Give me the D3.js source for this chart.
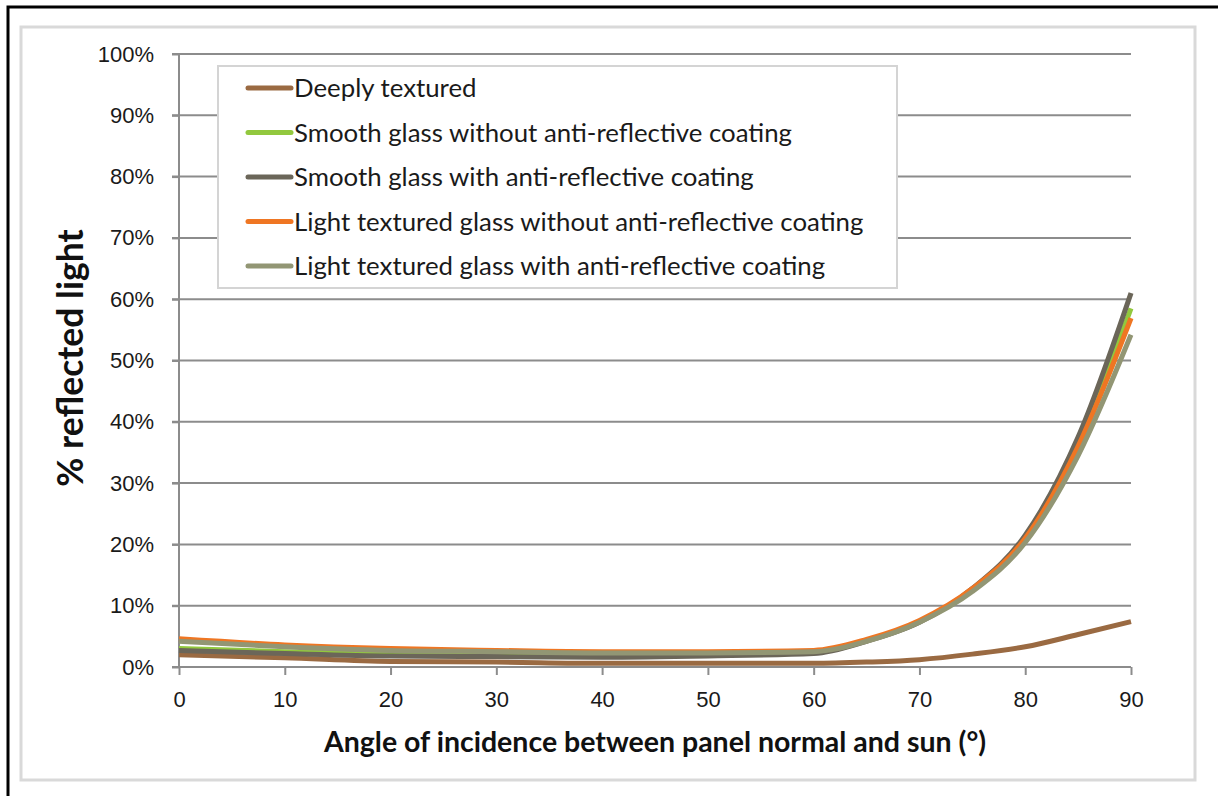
<!DOCTYPE html>
<html>
<head>
<meta charset="utf-8">
<script src="https://cdn.jsdelivr.net/npm/d3@7"></script>
<style>
  body { margin: 0; background: #fff; }
  svg { display: block; font-family: Lato, "Open Sans", sans-serif; }
  .grid line { stroke: #8c8c8c; stroke-width: 2; }
  .axis path, .axis line { stroke: #8c8c8c; stroke-width: 2; }
  .axis text { fill: #1a1a1a; font-size: 22px; }
  .legend text { fill: #1a1a1a; font-size: 25.8px; }
  .title { font-weight: bold; fill: #111; }
</style>
</head>
<body>
<div class="svg-container"></div>
<script>
// angle of incidence (degrees)
const angles = [0, 10, 20, 30, 40, 50, 60, 65, 70, 75, 80, 85, 90];

// % reflected light per surface type
const deeplyTextured   = [2.0, 1.5, 0.9, 0.8, 0.6, 0.6, 0.6, 0.8, 1.2, 2.1, 3.3, 5.3, 7.4];
const smoothNoAR       = [3.0, 2.5, 2.1, 2.0, 1.9, 2.0, 2.4, 4.3, 7.4, 12.6, 21.0, 36.5, 58.5];
const smoothAR         = [2.7, 2.2, 1.8, 1.7, 1.6, 1.8, 2.2, 4.2, 7.3, 12.8, 21.5, 37.5, 61.0];
const lightNoAR        = [4.6, 3.6, 3.0, 2.7, 2.5, 2.5, 2.7, 4.5, 7.6, 12.8, 21.0, 36.0, 56.9];
const lightAR          = [4.2, 3.3, 2.7, 2.5, 2.3, 2.3, 2.5, 4.2, 7.3, 12.3, 20.3, 34.5, 54.2];

const seriesNames = [
  "Deeply textured",
  "Smooth glass without anti-reflective coating",
  "Smooth glass with anti-reflective coating",
  "Light textured glass without anti-reflective coating",
  "Light textured glass with anti-reflective coating"
];
const seriesValues = [deeplyTextured, smoothNoAR, smoothAR, lightNoAR, lightAR];
const seriesColors = ["#9a6a42", "#92c83e", "#6b6659", "#ef7623", "#929674"];

const xTicks = [0, 10, 20, 30, 40, 50, 60, 70, 80, 90];
const yTicks = [0, 10, 20, 30, 40, 50, 60, 70, 80, 90, 100];

const width = 1218, height = 796;

var svg = d3.select(".svg-container").append("svg")
  .attr("width", width)
  .attr("height", height);

// outer frames
svg.append("rect")
  .attr("x", 8).attr("y", 7)
  .attr("width", 1240).attr("height", 820)
  .attr("fill", "none").attr("stroke", "#000").attr("stroke-width", 3);

svg.append("rect")
  .attr("x", 21).attr("y", 27)
  .attr("width", 1174).attr("height", 753)
  .attr("fill", "none").attr("stroke", "#d9d9d9").attr("stroke-width", 3);

var x = d3.scaleLinear().domain([0, 90]).range([179, 1131]);
var y = d3.scaleLinear().domain([0, 100]).range([667, 54]);

// horizontal gridlines
svg.append("g")
  .attr("class", "grid")
  .selectAll("line")
  .data(yTicks.filter(function(d) { return d > 0; }))
  .enter()
  .append("line")
  .attr("x1", x(0) - 7)
  .attr("x2", x(90))
  .attr("y1", function(d) { return y(d); })
  .attr("y2", function(d) { return y(d); });

// y axis
var yAxis = svg.append("g")
  .attr("class", "axis")
  .attr("transform", "translate(" + x(0) + ",0)")
  .call(d3.axisLeft(y).tickValues(yTicks).tickSize(7).tickPadding(18)
    .tickFormat(function(d) { return d + "%"; }));
yAxis.select(".domain").attr("d", "M0," + y(0) + "V" + y(100));

// x axis
var xAxis = svg.append("g")
  .attr("class", "axis")
  .attr("transform", "translate(0," + y(0) + ")")
  .call(d3.axisBottom(x).tickValues(xTicks).tickSize(8).tickPadding(16)
    .tickFormat(d3.format("d")));
xAxis.select(".domain").attr("d", "M" + (x(0) - 7) + ",0H" + x(90));

// lines
var line = d3.line()
  .x(function(d, i) { return x(angles[i]); })
  .y(function(d) { return y(d); })
  .curve(d3.curveMonotoneX);

svg.append("g")
  .selectAll("path")
  .data(seriesValues)
  .enter()
  .append("path")
  .attr("fill", "none")
  .attr("stroke", function(d, i) { return seriesColors[i]; })
  .attr("stroke-width", 5)
  .attr("stroke-linejoin", "round")
  .attr("d", line);

// legend
var legend = svg.append("g").attr("class", "legend");
legend.append("rect")
  .attr("x", 218).attr("y", 66)
  .attr("width", 679).attr("height", 222)
  .attr("fill", "#fff").attr("stroke", "#d4d4d4").attr("stroke-width", 2);

var rowY = d3.scaleLinear().domain([0, 4]).range([88, 266]);
var rows = legend.selectAll("g.row")
  .data(seriesNames)
  .enter()
  .append("g")
  .attr("class", "row")
  .attr("transform", function(d, i) { return "translate(0," + rowY(i) + ")"; });

rows.append("line")
  .attr("x1", 248).attr("x2", 291)
  .attr("stroke", function(d, i) { return seriesColors[i]; })
  .attr("stroke-width", 5)
  .attr("stroke-linecap", "round");

rows.append("text")
  .attr("x", 294)
  .attr("dy", "0.35em")
  .text(function(d) { return d; });

// axis titles
svg.append("text")
  .attr("class", "title")
  .style("font-size", "28.5px")
  .attr("x", (x(0) + x(90)) / 2)
  .attr("y", 742)
  .attr("dy", "0.35em")
  .attr("text-anchor", "middle")
  .text("Angle of incidence between panel normal and sun (°)");

svg.append("text")
  .attr("class", "title")
  .style("font-size", "35.5px")
  .attr("transform", "translate(71," + 358 + ") rotate(-90)")
  .attr("dy", "0.35em")
  .attr("text-anchor", "middle")
  .text("% reflected light");
</script>
</body>
</html>
